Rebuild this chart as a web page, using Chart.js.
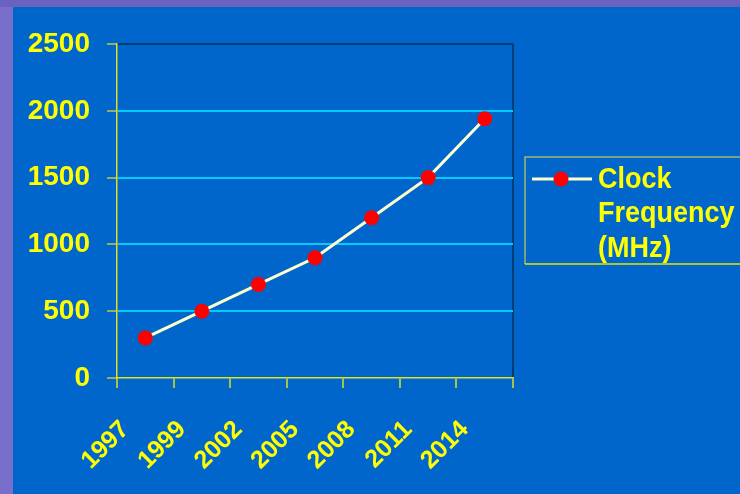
<!DOCTYPE html>
<html>
<head>
<meta charset="utf-8">
<title>Clock Frequency (MHz)</title>
<script src="https://cdn.jsdelivr.net/npm/chart.js@4/dist/chart.umd.min.js"></script>
<style>
  html, body { margin: 0; padding: 0; background: #6A62BE; }
  #chart { display: block; }
</style>
</head>
<body>
<canvas id="chart" width="740" height="494"></canvas>
<script>
// Data
const years = ['1997', '1999', '2002', '2005', '2008', '2011', '2014'];
const clockMHz = [300, 500, 700, 900, 1200, 1500, 1940];
const yTickValues = [0, 500, 1000, 1500, 2000, 2500];
const seriesLabel = ['Clock', 'Frequency', '(MHz)'];

// Palette
const YELLOW = '#FFFF00';
const PANEL = '#0066CC';
const GRID = '#00CCFF';
const FRAME_DARK = '#003E78';
const LINE = '#FFFFCC';
const MARKER = '#FF0000';
const FONT = "'Liberation Sans', Arial, Helvetica, sans-serif";

// Slide-like frame: purple edge with the blue panel
const backdrop = {
  id: 'backdrop',
  beforeDraw(chart) {
    const { ctx, width, height } = chart;
    ctx.save();
    ctx.fillStyle = '#6A62BE';
    ctx.fillRect(0, 0, width, height);
    ctx.fillStyle = '#786FCD';
    ctx.fillRect(0, 7, 13, height - 7);
    ctx.fillStyle = PANEL;
    ctx.fillRect(13, 7, width - 13, height - 7);
    ctx.restore();
  }
};

// Legend box on the right, drawn with the dataset's own line and marker styles
const sideLegend = {
  id: 'sideLegend',
  afterDraw(chart) {
    const { ctx, chartArea } = chart;
    const ds = chart.data.datasets[0];
    const left = chartArea.right + 12;
    const top = 157;
    const bottom = 264;
    const right = chart.width + 5;
    ctx.save();
    ctx.lineWidth = 1.5;
    ctx.strokeStyle = '#9DB86A';
    ctx.beginPath();
    ctx.moveTo(right, top);
    ctx.lineTo(left, top);
    ctx.lineTo(left, bottom);
    ctx.stroke();
    ctx.strokeStyle = '#E6E600';
    ctx.beginPath();
    ctx.moveTo(left, bottom);
    ctx.lineTo(right, bottom);
    ctx.stroke();

    const sy = 179;
    ctx.strokeStyle = ds.borderColor;
    ctx.lineWidth = ds.borderWidth;
    ctx.beginPath();
    ctx.moveTo(left + 7, sy);
    ctx.lineTo(left + 67, sy);
    ctx.stroke();
    ctx.fillStyle = ds.pointBackgroundColor;
    ctx.beginPath();
    ctx.arc(left + 36, sy, ds.pointRadius, 0, Math.PI * 2);
    ctx.fill();

    // Series name, three lines, slightly tall lettering
    ctx.fillStyle = YELLOW;
    ctx.font = 'bold 27px ' + FONT;
    ctx.textAlign = 'left';
    ctx.textBaseline = 'middle';
    seriesLabel.forEach((line, i) => {
      const ty = sy + 1 + i * 34.5;
      ctx.save();
      ctx.translate(left + 73, ty);
      ctx.scale(1, 1.06);
      ctx.fillText(line, 0, 0);
      ctx.restore();
    });
    ctx.restore();
  }
};

new Chart(document.getElementById('chart'), {
  type: 'line',
  data: {
    labels: years,
    datasets: [{
      label: seriesLabel.join(' '),
      data: clockMHz,
      borderColor: LINE,
      borderWidth: 3,
      tension: 0,
      pointRadius: 7.5,
      pointHoverRadius: 7.5,
      pointBackgroundColor: MARKER,
      pointBorderWidth: 0,
      pointBorderColor: MARKER
    }]
  },
  options: {
    responsive: false,
    animation: false,
    events: [],
    layout: { padding: { left: 0, top: 44, right: 227, bottom: 0 } },
    plugins: {
      legend: { display: false },
      tooltip: { enabled: false },
      title: { display: false }
    },
    scales: {
      x: {
        type: 'category',
        offset: true,
        afterFit(scale) { scale.height = 116; },
        grid: {
          offset: true,
          drawOnChartArea: true,
          lineWidth: 2,
          color: c => (c.type === 'tick' ? 'rgba(0,0,0,0)' : FRAME_DARK),
          tickColor: '#E0E020',
          tickWidth: 1.5,
          tickLength: 10
        },
        border: { display: true, color: '#E0E020', width: 1.5 },
        ticks: {
          color: YELLOW,
          font: { family: FONT, size: 25, weight: 'bold' },
          minRotation: 45,
          maxRotation: 45,
          autoSkip: false,
          labelOffset: -20,
          padding: 27
        }
      },
      y: {
        min: 0,
        max: 2500,
        afterFit(scale) { scale.width = 117; },
        afterBuildTicks(scale) { scale.ticks = yTickValues.map(v => ({ value: v })); },
        grid: {
          lineWidth: 2,
          color: c => {
            if (c.tick && c.tick.value === 2500) return FRAME_DARK;
            if (c.tick && c.tick.value === 0) return 'rgba(0,0,0,0)';
            return GRID;
          },
          tickColor: '#C8C840',
          tickWidth: 1.5,
          tickLength: 10
        },
        border: { display: true, color: '#E0E020', width: 1.5 },
        ticks: {
          color: YELLOW,
          font: { family: FONT, size: 28, weight: 'bold' },
          padding: 17,
          callback: v => String(v)
        }
      }
    }
  },
  plugins: [backdrop, sideLegend]
});
</script>
</body>
</html>
